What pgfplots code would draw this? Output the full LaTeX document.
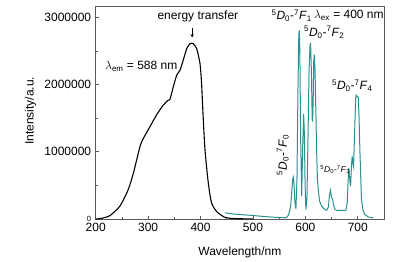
\documentclass[border=0pt]{standalone}
\usepackage{pgfplots}
\pgfplotsset{compat=1.18}
\usepackage{fontspec}
\setmainfont{Liberation Sans}
\definecolor{teal1}{RGB}{42,144,144}
\definecolor{axgray}{RGB}{90,90,90}
\newcommand{\tr}[1]{\textsuperscript{5}\textit{D}\textsubscript{0}-\textsuperscript{7}\textit{F}\textsubscript{#1}}
\begin{document}
\begin{tikzpicture}
\useasboundingbox (-95.7pt,-43pt) rectangle (312.3pt,219pt);
\begin{axis}[
  scale only axis, width=288.3pt, height=212.3pt,
  at={(0,0)}, anchor=south west,
  xmin=200, xmax=750, ymin=0, ymax=3160000,
  xtick={200,300,...,700}, minor x tick num=1,
  ytick={0,1000000,2000000,3000000}, minor y tick num=1,
  yticklabels={{\fontsize{7.5}{8}\selectfont 0},1000000,2000000,3000000},
  scaled y ticks=false,
  /pgf/number format/assume math mode=true,
  tick pos=left, tick align=inside,
  major tick length=3pt, minor tick length=2pt,
  axis line style={axgray, line width=0.9pt},
  every tick/.style={axgray, line width=0.7pt},
  tick label style={font=\fontsize{12}{14}\selectfont},
  label style={font=\fontsize{12}{14}\selectfont},
  xlabel={Wavelength/nm}, ylabel={Intensity/a.u.},
  xlabel style={at={(axis description cs:0.5,0)}, anchor=north, yshift=-24pt},
  ylabel style={at={(axis description cs:-0.226,0.51)}, anchor=center},
  xticklabel style={yshift=-1pt},
  yticklabel style={xshift=-1pt},
  clip=false,
]
\addplot[black, line width=1.1pt, smooth, tension=0.4] coordinates {
(200,0) (210,8000) (227,50000) (246,190000) (262,437000) (272,685000) (284.5,1078000)
(291,1200000) (303.6,1375000) (316,1548000) (329,1696000) (338.5,1770000) (341.7,1780000)
(348,1967000) (354.5,2140000) (360.8,2215000) (367,2363000) (373.6,2536000) (380,2610000)
(386,2610000) (392.6,2536000) (399,2314000) (402,2017000) (405,1523000) (408.5,1030000)
(414.8,536000) (421,240000) (430.8,110000) (437,70000) (445,30000) (455,12000) (465,5000) (480,3000) (500,2000)
};
\addplot[teal1, line width=1pt] coordinates {
(446.6,92000) (455,82000) (465,72000) (475,66000) (490,58000) (500,52000)
(520,38000) (538,27000) (555,20000) (564,20000) (567,50000) (569,90000) (572,200000) (574,400000)
(576,600000) (577,625000) (578,560000) (580,250000) (582,150000) (584,600000) (586,2000000)
(587.5,2750000) (588.5,2807000) (589.5,2500000) (591,1200000) (593,340000) (595,1100000)
(596.7,1563000) (598,1300000) (599.5,500000) (601,140000) (603,300000) (605,1200000)
(607,2200000) (609,2600000) (610,2610000) (611.5,2200000) (613,1500000) (613.8,1449000)
(615,1800000) (616,2350000) (617,2447000) (618.5,2200000) (620,1600000) (621.5,1030000)
(623,600000) (624.6,437000) (627,270000) (631,190000) (636,150000) (640.6,130000)
(644,180000) (646,350000) (648,427000) (650,320000) (652,290000) (654,200000) (656.4,140000)
(660,130000) (670,130000) (677.4,130000) (680,250000) (682,650000) (683,758000) (685,560000)
(686.3,486000) (688,800000) (689.4,930000) (691,820000) (692,782000) (694,1300000)
(696,1800000) (697,1844000) (699,1820000) (701,1810000) (702.5,1500000) (704,1030000)
(707,290000) (710,130000) (713.6,67000) (720,30000) (729.5,18000)
};
\node[font=\fontsize{12}{14}\selectfont] at (axis cs:395,3015000) {energy transfer};
\draw[-stealth, black, line width=0.6pt] (axis cs:384,2850000) -- (axis cs:384,2700000);
\node[anchor=west, font=\fontsize{12}{14}\selectfont, inner sep=0pt] at (axis cs:217.7,2274000) {$\lambda_{\mathrm{em}}$ = 588 nm};
\node[font=\fontsize{12}{14}\selectfont, inner sep=0pt] at (axis cs:574,3030000) {\tr{1}};
\node[font=\fontsize{12}{14}\selectfont, inner sep=0pt] at (axis cs:683,3030000) {$\lambda_{\mathrm{ex}}$ = 400 nm};
\node[font=\fontsize{12}{14}\selectfont, inner sep=0pt] at (axis cs:636,2780000) {\tr{2}};
\node[font=\fontsize{12}{14}\selectfont, inner sep=0pt] at (axis cs:689.5,1980000) {\tr{4}};
\node[font=\fontsize{12}{14}\selectfont, inner sep=0pt, rotate=90] at (axis cs:557,955000) {\tr{0}};
\node[font=\fontsize{8.5}{9}\selectfont, inner sep=0pt] at (axis cs:657,733000) {\tr{3}};
\end{axis}
\end{tikzpicture}
\end{document}
